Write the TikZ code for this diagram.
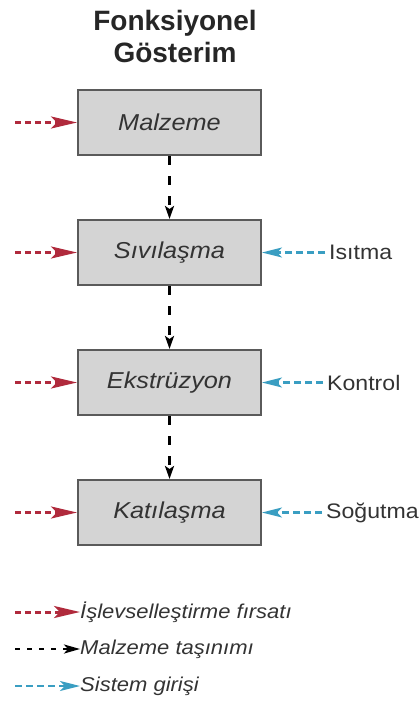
\documentclass[tikz,border=0pt]{standalone}
\usepackage{fontspec}
\setmainfont{Liberation Sans}
\newfontfamily\widefont[FakeStretch=1.1]{Liberation Sans}
\usetikzlibrary{arrows.meta}
\definecolor{redA}{HTML}{B02A3C}
\definecolor{blueA}{HTML}{3A9EC2}
\definecolor{boxfill}{HTML}{D4D4D4}
\definecolor{boxline}{HTML}{5A5A5A}
\definecolor{txt}{HTML}{333333}
\tikzset{
  procbox/.style={draw=boxline, line width=2pt, fill=boxfill, minimum width=183pt, minimum height=65pt, inner sep=0pt, font=\widefont\fontsize{23}{25}\selectfont\itshape, text=txt},
  redarr/.style={draw=redA, line width=3pt, dash pattern=on 6pt off 4pt, -{Stealth[length=26pt,width=12pt,inset=6pt,fill=redA]}},
  bluearr/.style={draw=blueA, line width=2.2pt, dash pattern=on 7pt off 4pt, -{Stealth[length=20pt,width=10pt,inset=5pt,fill=blueA]}},
  blackarr/.style={draw=black, line width=3pt, dash pattern=on 9pt off 11pt, -{Stealth[length=13pt,width=9pt,inset=3pt]}},
  sidelabel/.style={anchor=west, inner sep=0pt, font=\widefont\fontsize{21}{23}\selectfont, text=txt},
  legtext/.style={anchor=west, inner sep=0pt, font=\widefont\fontsize{20}{22}\selectfont\itshape, text=txt},
  titletext/.style={align=center, font=\fontsize{28}{32}\selectfont\bfseries, text=black!85}
}
\begin{document}
\begin{tikzpicture}[x=1pt,y=-1pt]
\useasboundingbox (0,0) rectangle (418,702);
\node[titletext] (title) at (175,36) {Fonksiyonel\\Gösterim};
\node[procbox] (b1) at (169.5,122.5) {Malzeme};
\node[procbox] (b2) at (169.5,252.5) {Sıvılaşma};
\node[procbox] (b3) at (169.5,382.5) {Ekstrüzyon};
\node[procbox] (b4) at (169.5,512.5) {Katılaşma};
\foreach \i in {1,2,3,4}{
  \coordinate (r\i) at (15,{122.5+130*(\i-1)});
  \draw[redarr] (r\i) -- (b\i.west);
}
\draw[blackarr] (b1.south) -- (b2.north);
\draw[blackarr] (b2.south) -- (b3.north);
\draw[blackarr] (b3.south) -- (b4.north);
\node[sidelabel] (l2) at (329,252.5) {Isıtma};
\node[sidelabel] (l3) at (327,382.5) {Kontrol};
\node[sidelabel] (l4) at (326,512.5) {Soğutma};
\draw[bluearr, shorten <=4pt] (l2.west) -- (b2.east);
\draw[bluearr, shorten <=4pt] (l3.west) -- (b3.east);
\draw[bluearr, shorten <=4pt] (l4.west) -- (b4.east);
% legend
\coordinate (g1) at (15,612);
\coordinate (g2) at (15,649);
\coordinate (g3) at (15,686);
\node[legtext] (t1) at (80,612) {İşlevselleştirme fırsatı};
\node[legtext] (t2) at (80,649) {Malzeme taşınımı};
\node[legtext] (t3) at (80,686) {Sistem girişi};
\draw[redarr] (g1) -- (t1.west);
\draw[blackarr, line width=2.4pt, dash pattern=on 5pt off 7pt, -{Stealth[length=16pt,width=9pt,inset=4pt]}] (g2) -- (t2.west);
\draw[bluearr] (g3) -- (t3.west);
\end{tikzpicture}
\end{document}
